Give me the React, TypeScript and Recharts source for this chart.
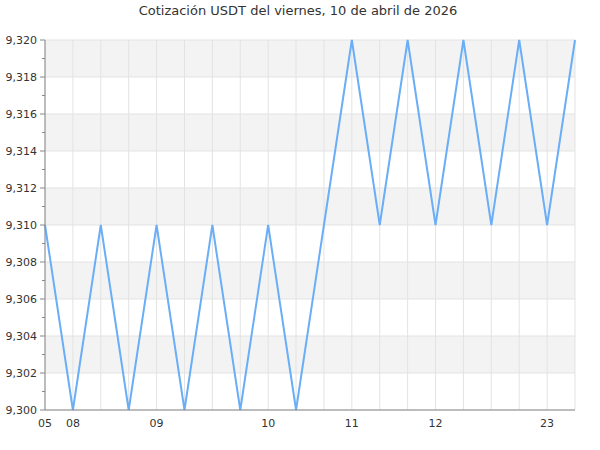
import { LineChart, Line, XAxis, YAxis, CartesianGrid } from "recharts";

// hour labels (blank where the hour does not change)
const hours = ["05", "08", "", "", "09", "", "", "", "10", "", "", "11", "", "", "12", "", "", "", "23", ""];
const rates = [
  9.31, 9.3, 9.31, 9.3, 9.31, 9.3, 9.31, 9.3, 9.31, 9.3,
  9.31, 9.32, 9.31, 9.32, 9.31, 9.32, 9.31, 9.32, 9.31, 9.32,
];
const majorTicks = [9.3, 9.302, 9.304, 9.306, 9.308, 9.31, 9.312, 9.314, 9.316, 9.318, 9.32];
const allTicks = [
  9.3, 9.301, 9.302, 9.303, 9.304, 9.305, 9.306, 9.307, 9.308, 9.309, 9.31,
  9.311, 9.312, 9.313, 9.314, 9.315, 9.316, 9.317, 9.318, 9.319, 9.32,
];

const data = rates.map((v, i) => ({ hour: hours[i], rate: v }));

const FONT = "'DejaVu Sans', sans-serif";

const isMajor = (v: number) => majorTicks.some((m) => Math.abs(m - v) < 1e-7);

const YTick = (props: any) => {
  const { x, y, payload } = props;
  const major = isMajor(payload.value);
  const end = x + 8;
  return (
    <g>
      <line x1={end - (major ? 5 : 3)} x2={end} y1={y} y2={y} stroke="#888" />
      {major && (
        <text x={x} y={y} dy="0.355em" textAnchor="end" fontSize={11} fontFamily={FONT} fill="#333">
          {payload.value.toFixed(3).replace(".", ",")}
        </text>
      )}
    </g>
  );
};

export default function App() {
  return (
    <div style={{ position: "absolute", top: 0, left: 0, width: 600, height: 450, background: "#fff" }}>
      <div
        style={{
          position: "absolute",
          top: 3,
          left: 0,
          width: 596,
          textAlign: "center",
          fontFamily: FONT,
          fontSize: 13,
          color: "#333",
          zIndex: 2,
        }}
      >
        Cotización USDT del viernes, 10 de abril de 2026
      </div>
      <LineChart width={600} height={450} data={data} margin={{ top: 40, right: 25, bottom: 20, left: 0 }}>
        <CartesianGrid
          stroke="#e3e3e3"
          horizontalValues={majorTicks}
          horizontalFill={["#f3f3f3", "#ffffff"]}
        />
        <XAxis
          dataKey="hour"
          interval={0}
          tickLine={false}
          tickSize={0}
          tickMargin={9}
          stroke="#888"
          tick={{ fontSize: 11, fontFamily: FONT, fill: "#333" }}
          height={20}
        />
        <YAxis
          type="number"
          domain={[9.3, 9.32]}
          ticks={allTicks}
          interval={0}
          width={45}
          tickLine={false}
          tickSize={5}
          tickMargin={3}
          stroke="#888"
          tick={<YTick />}
        />
        <Line
          type="linear"
          dataKey="rate"
          stroke="#6aaef7"
          strokeWidth={2}
          dot={false}
          isAnimationActive={false}
        />
      </LineChart>
    </div>
  );
}
